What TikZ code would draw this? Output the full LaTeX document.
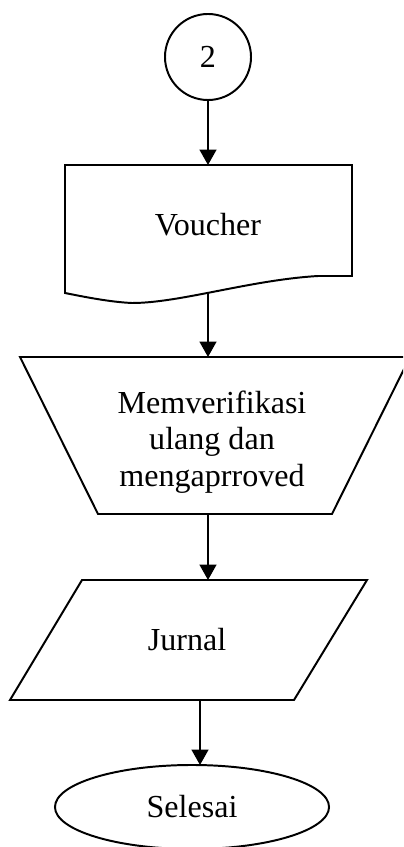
\documentclass[tikz,border=0pt]{standalone}
\usepackage{fontspec}
\setmainfont{Liberation Serif}
\usetikzlibrary{arrows.meta, shapes.geometric}

\begin{document}
\begin{tikzpicture}[x=0.025cm, y=-0.025cm, line width=1.4pt,
		flow/.style={-{Triangle[width=12pt,length=11pt]}},
		txt/.style={font=\fontsize{22.8}{26}\selectfont, align=center}]
			\useasboundingbox (0,0) rectangle (403,847);
			\clip (0,0) rectangle (403,847);

			% connector
			\node [draw, circle, minimum size=2.15cm, inner sep=0pt, txt] (start) at (208,57) {2};

			% document
			\draw (65,165) -- (352,165) -- (352,276) -- (318,276)
				.. controls (250,280) and (180,303) .. (132,303)
				.. controls (110,302) and (85,297) .. (65,293) -- cycle;
			\node [txt] (voucher) at (208,225) {Voucher};
			\coordinate (vtop) at (208,165);
			\coordinate (vbot) at (208,293);

			% manual operation
			\draw (20,357) -- (410,357) -- (332,514) -- (98,514) -- cycle;
			\node [txt] (verif) at (212,442) {Memverifikasi\\ulang dan\\mengaprroved};
			\coordinate (mtop) at (208,357);
			\coordinate (mbot) at (208,514);

			% input/output
			\draw (82,580) -- (367,580) -- (294,700) -- (10,700) -- cycle;
			\node [txt] (jurnal) at (187,640) {Jurnal};
			\coordinate (jtop) at (208,580);
			\coordinate (jbot) at (200,700);

			% terminator
			\node [draw, ellipse, minimum width=6.85cm, minimum height=2.1cm, inner sep=0pt, txt] (selesai) at (192,807) {Selesai};
			\coordinate (stop) at (200,765);

			\draw [flow] (start) to (vtop);
			\draw [flow] (vbot) to (mtop);
			\draw [flow] (mbot) to (jtop);
			\draw [flow] (jbot) to (stop);
\end{tikzpicture}
\end{document}
